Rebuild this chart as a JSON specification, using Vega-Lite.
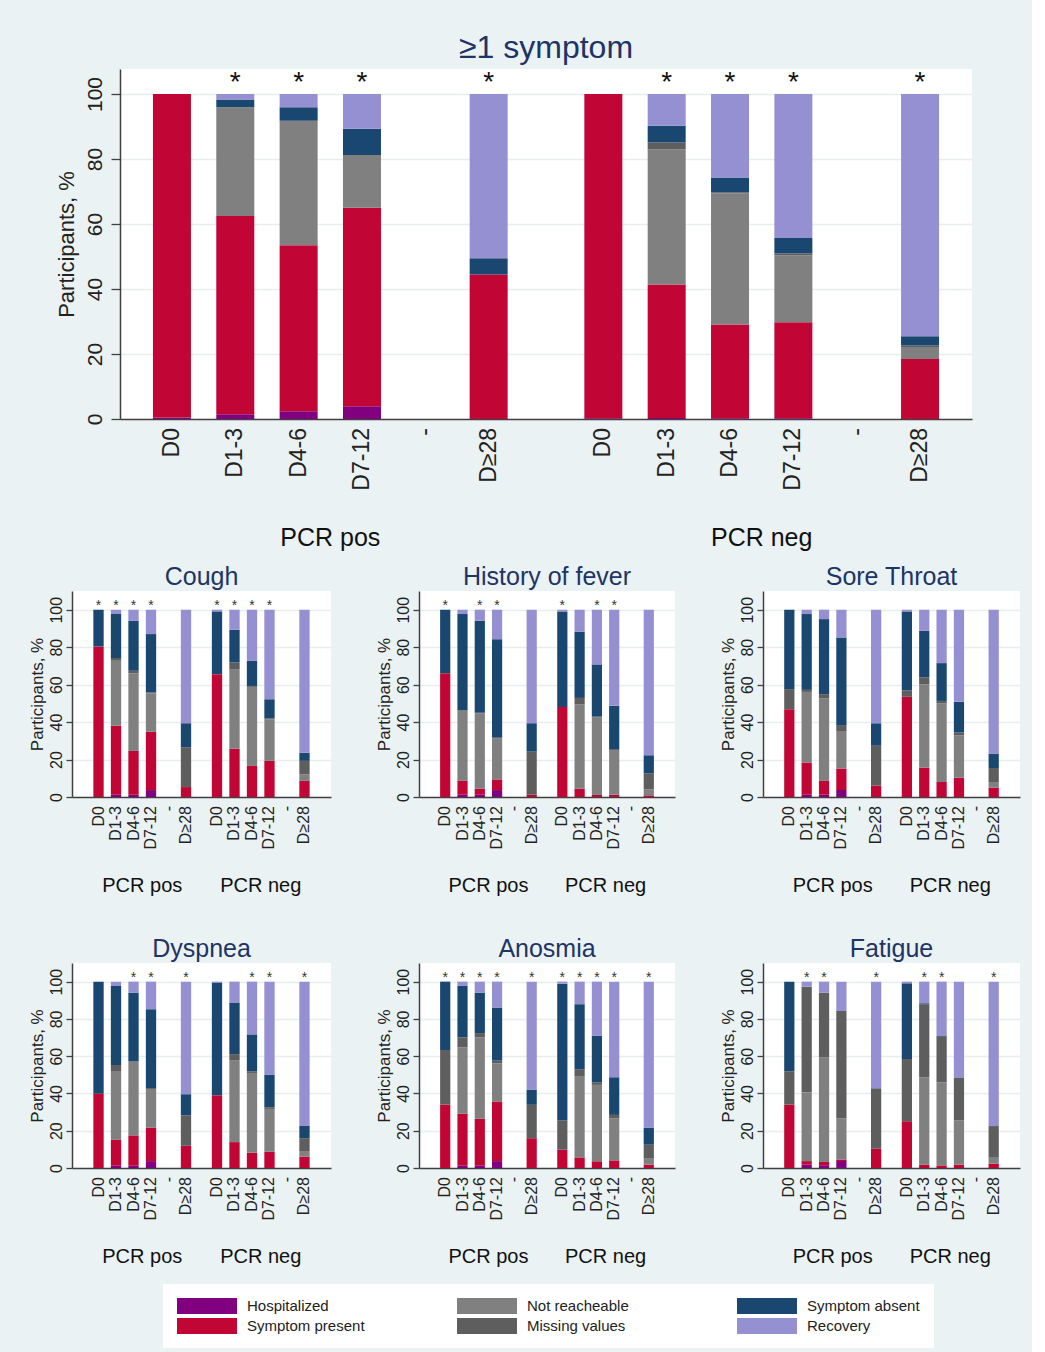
{
"$schema": "https://vega.github.io/schema/vega-lite/v6.json",
"background": "#eaf2f3",
"padding": {"left": 28, "top": 31, "right": 12, "bottom": 4},
"config": {
  "font": "Liberation Sans",
  "view": {"fill": "white", "stroke": null},
  "title": {"fontWeight": "normal", "color": "#1e3466", "anchor": "middle"},
  "axis": {"labelColor": "#222222", "titleColor": "#222222", "titleFontWeight": "normal", "domainColor": "#404040", "domainWidth": 1.5, "tickColor": "#404040", "tickWidth": 1.3, "gridColor": "#e6eef0", "gridWidth": 1.5},
  "axisX": {"grid": false, "ticks": false, "labelAngle": 0, "labelColor": "#111111", "labelBaseline": "top"},
  "axisY": {"labelAngle": -90, "labelAlign": "center", "labelBaseline": "bottom", "titlePadding": 2, "labelPadding": 2}
},
"datasets": {
  "cats": [
    {"key": "H", "c": "Hospitalized", "k": 1},
    {"key": "S", "c": "Symptom present", "k": 2},
    {"key": "N", "c": "Not reacheable", "k": 3},
    {"key": "M", "c": "Missing values", "k": 4},
    {"key": "A", "c": "Symptom absent", "k": 5},
    {"key": "R", "c": "Recovery", "k": 6}
  ],
  "bars": [
    {"p":"sym","g":"PCR pos","t":"D0","H":0.5,"S":99.5,"N":0,"M":0,"A":0,"R":0,"star":0},
    {"p":"sym","g":"PCR pos","t":"D1-3","H":1.5,"S":61,"N":33.4,"M":0,"A":2.4,"R":1.7,"star":1},
    {"p":"sym","g":"PCR pos","t":"D4-6","H":2.4,"S":51.1,"N":38.3,"M":0,"A":4.1,"R":4.1,"star":1},
    {"p":"sym","g":"PCR pos","t":"D7-12","H":3.9,"S":61.1,"N":16.2,"M":0,"A":8.1,"R":10.7,"star":1},
    {"p":"sym","g":"PCR pos","t":"-","H":0,"S":0,"N":0,"M":0,"A":0,"R":0,"star":0},
    {"p":"sym","g":"PCR pos","t":"D≥28","H":0,"S":44.5,"N":0,"M":0,"A":5,"R":50.5,"star":1},
    {"p":"sym","g":"PCR neg","t":"D0","H":0.2,"S":99.8,"N":0,"M":0,"A":0,"R":0,"star":0},
    {"p":"sym","g":"PCR neg","t":"D1-3","H":0.3,"S":41.1,"N":41.6,"M":2.1,"A":5.1,"R":9.8,"star":1},
    {"p":"sym","g":"PCR neg","t":"D4-6","H":0.2,"S":28.9,"N":40.4,"M":0.3,"A":4.5,"R":25.7,"star":1},
    {"p":"sym","g":"PCR neg","t":"D7-12","H":0.2,"S":29.6,"N":20.6,"M":0.5,"A":4.8,"R":44.3,"star":1},
    {"p":"sym","g":"PCR neg","t":"-","H":0,"S":0,"N":0,"M":0,"A":0,"R":0,"star":0},
    {"p":"sym","g":"PCR neg","t":"D≥28","H":0,"S":18.5,"N":3.4,"M":0.7,"A":2.9,"R":74.5,"star":1},

    {"p":"cough","g":"PCR pos","t":"D0","H":0,"S":80.4,"N":0,"M":0,"A":19.6,"R":0,"star":1},
    {"p":"cough","g":"PCR pos","t":"D1-3","H":1.2,"S":36.8,"N":34.7,"M":1.5,"A":23.5,"R":2.3,"star":1},
    {"p":"cough","g":"PCR pos","t":"D4-6","H":1.2,"S":23.4,"N":41.4,"M":1.4,"A":26.7,"R":5.9,"star":1},
    {"p":"cough","g":"PCR pos","t":"D7-12","H":3.7,"S":31.1,"N":20.5,"M":0.5,"A":31.2,"R":13,"star":1},
    {"p":"cough","g":"PCR pos","t":"-","H":0,"S":0,"N":0,"M":0,"A":0,"R":0,"star":0},
    {"p":"cough","g":"PCR pos","t":"D≥28","H":0,"S":5.3,"N":0,"M":21.1,"A":13,"R":60.6,"star":0},
    {"p":"cough","g":"PCR neg","t":"D0","H":0,"S":65.6,"N":0,"M":0,"A":33.5,"R":0.9,"star":1},
    {"p":"cough","g":"PCR neg","t":"D1-3","H":0,"S":25.8,"N":42.5,"M":3.5,"A":17.5,"R":10.7,"star":1},
    {"p":"cough","g":"PCR neg","t":"D4-6","H":0,"S":16.6,"N":42.2,"M":0.5,"A":13.4,"R":27.3,"star":1},
    {"p":"cough","g":"PCR neg","t":"D7-12","H":0,"S":19.3,"N":22.2,"M":0.5,"A":10.2,"R":47.8,"star":1},
    {"p":"cough","g":"PCR neg","t":"-","H":0,"S":0,"N":0,"M":0,"A":0,"R":0,"star":0},
    {"p":"cough","g":"PCR neg","t":"D≥28","H":0,"S":8.6,"N":3.5,"M":7.2,"A":4.4,"R":76.3,"star":0},

    {"p":"fever","g":"PCR pos","t":"D0","H":0,"S":66.1,"N":0,"M":0,"A":33.9,"R":0,"star":1},
    {"p":"fever","g":"PCR pos","t":"D1-3","H":1.2,"S":7.4,"N":37.9,"M":0,"A":51.2,"R":2.3,"star":0},
    {"p":"fever","g":"PCR pos","t":"D4-6","H":1.2,"S":3.3,"N":40.1,"M":0.4,"A":49.1,"R":5.9,"star":1},
    {"p":"fever","g":"PCR pos","t":"D7-12","H":3.7,"S":5.7,"N":21.8,"M":0.4,"A":52.7,"R":15.7,"star":1},
    {"p":"fever","g":"PCR pos","t":"-","H":0,"S":0,"N":0,"M":0,"A":0,"R":0,"star":0},
    {"p":"fever","g":"PCR pos","t":"D≥28","H":0,"S":1.2,"N":0,"M":23,"A":15.2,"R":60.6,"star":0},
    {"p":"fever","g":"PCR neg","t":"D0","H":0,"S":48.1,"N":0,"M":0,"A":51,"R":0.9,"star":1},
    {"p":"fever","g":"PCR neg","t":"D1-3","H":0,"S":4.5,"N":44.9,"M":3.5,"A":35.3,"R":11.8,"star":0},
    {"p":"fever","g":"PCR neg","t":"D4-6","H":0,"S":1.1,"N":41.3,"M":0.5,"A":27.9,"R":29.2,"star":1},
    {"p":"fever","g":"PCR neg","t":"D7-12","H":0,"S":1.2,"N":23.9,"M":0.5,"A":23.1,"R":51.3,"star":1},
    {"p":"fever","g":"PCR neg","t":"-","H":0,"S":0,"N":0,"M":0,"A":0,"R":0,"star":0},
    {"p":"fever","g":"PCR neg","t":"D≥28","H":0,"S":0.9,"N":3.2,"M":8.4,"A":9.8,"R":77.7,"star":0},

    {"p":"sore","g":"PCR pos","t":"D0","H":0,"S":46.9,"N":0,"M":10.7,"A":42.4,"R":0,"star":0},
    {"p":"sore","g":"PCR pos","t":"D1-3","H":1.2,"S":17.2,"N":37.7,"M":1.1,"A":40.5,"R":2.3,"star":0},
    {"p":"sore","g":"PCR pos","t":"D4-6","H":1.2,"S":7.4,"N":44,"M":2.3,"A":40.1,"R":5,"star":0},
    {"p":"sore","g":"PCR pos","t":"D7-12","H":3.7,"S":11.5,"N":20.1,"M":2.7,"A":47.2,"R":14.8,"star":0},
    {"p":"sore","g":"PCR pos","t":"-","H":0,"S":0,"N":0,"M":0,"A":0,"R":0,"star":0},
    {"p":"sore","g":"PCR pos","t":"D≥28","H":0,"S":6.2,"N":0,"M":21.1,"A":12.1,"R":60.6,"star":0},
    {"p":"sore","g":"PCR neg","t":"D0","H":0,"S":53.5,"N":0,"M":3.5,"A":42.1,"R":0.9,"star":0},
    {"p":"sore","g":"PCR neg","t":"D1-3","H":0,"S":15.7,"N":44.5,"M":3.6,"A":25,"R":11.2,"star":0},
    {"p":"sore","g":"PCR neg","t":"D4-6","H":0,"S":8,"N":41.9,"M":1.4,"A":20.2,"R":28.5,"star":0},
    {"p":"sore","g":"PCR neg","t":"D7-12","H":0,"S":10.3,"N":22.7,"M":1.4,"A":16.4,"R":49.2,"star":0},
    {"p":"sore","g":"PCR neg","t":"-","H":0,"S":0,"N":0,"M":0,"A":0,"R":0,"star":0},
    {"p":"sore","g":"PCR neg","t":"D≥28","H":0,"S":5,"N":3,"M":7.5,"A":7.7,"R":76.8,"star":0},

    {"p":"dysp","g":"PCR pos","t":"D0","H":0,"S":39.9,"N":0,"M":0,"A":60.1,"R":0,"star":0},
    {"p":"dysp","g":"PCR pos","t":"D1-3","H":1.2,"S":14.1,"N":36.4,"M":3.6,"A":42.4,"R":2.3,"star":0},
    {"p":"dysp","g":"PCR pos","t":"D4-6","H":1.2,"S":16.3,"N":39.5,"M":0.4,"A":36.7,"R":5.9,"star":1},
    {"p":"dysp","g":"PCR pos","t":"D7-12","H":3.7,"S":18,"N":20.7,"M":0.5,"A":42.3,"R":14.8,"star":1},
    {"p":"dysp","g":"PCR pos","t":"-","H":0,"S":0,"N":0,"M":0,"A":0,"R":0,"star":0},
    {"p":"dysp","g":"PCR pos","t":"D≥28","H":0,"S":11.9,"N":0,"M":16.3,"A":11.4,"R":60.4,"star":1},
    {"p":"dysp","g":"PCR neg","t":"D0","H":0,"S":39,"N":0,"M":0,"A":60.5,"R":0.5,"star":0},
    {"p":"dysp","g":"PCR neg","t":"D1-3","H":0,"S":13.9,"N":44,"M":3.2,"A":27.7,"R":11.2,"star":0},
    {"p":"dysp","g":"PCR neg","t":"D4-6","H":0,"S":8.2,"N":42.8,"M":0.9,"A":19.8,"R":28.3,"star":1},
    {"p":"dysp","g":"PCR neg","t":"D7-12","H":0,"S":8.7,"N":23,"M":0.9,"A":17.5,"R":49.9,"star":1},
    {"p":"dysp","g":"PCR neg","t":"-","H":0,"S":0,"N":0,"M":0,"A":0,"R":0,"star":0},
    {"p":"dysp","g":"PCR neg","t":"D≥28","H":0,"S":6.1,"N":3,"M":6.9,"A":6.8,"R":77.2,"star":1},

    {"p":"anos","g":"PCR pos","t":"D0","H":0,"S":34,"N":0,"M":29.3,"A":36.7,"R":0,"star":1},
    {"p":"anos","g":"PCR pos","t":"D1-3","H":1.2,"S":27.9,"N":35.6,"M":5.4,"A":27.6,"R":2.3,"star":1},
    {"p":"anos","g":"PCR pos","t":"D4-6","H":1.2,"S":25.2,"N":43.7,"M":2.3,"A":21.7,"R":5.9,"star":1},
    {"p":"anos","g":"PCR pos","t":"D7-12","H":3.7,"S":32,"N":20.4,"M":1.5,"A":28.5,"R":13.9,"star":1},
    {"p":"anos","g":"PCR pos","t":"-","H":0,"S":0,"N":0,"M":0,"A":0,"R":0,"star":0},
    {"p":"anos","g":"PCR pos","t":"D≥28","H":0,"S":16,"N":0,"M":17.9,"A":8.2,"R":57.9,"star":1},
    {"p":"anos","g":"PCR neg","t":"D0","H":0,"S":9.8,"N":0,"M":15.7,"A":73.4,"R":1.1,"star":1},
    {"p":"anos","g":"PCR neg","t":"D1-3","H":0,"S":5.7,"N":43.3,"M":3.8,"A":35.1,"R":12.1,"star":1},
    {"p":"anos","g":"PCR neg","t":"D4-6","H":0,"S":3.6,"N":41,"M":1.4,"A":24.9,"R":29.1,"star":1},
    {"p":"anos","g":"PCR neg","t":"D7-12","H":0,"S":4.1,"N":22.6,"M":1.8,"A":20.2,"R":51.3,"star":1},
    {"p":"anos","g":"PCR neg","t":"-","H":0,"S":0,"N":0,"M":0,"A":0,"R":0,"star":0},
    {"p":"anos","g":"PCR neg","t":"D≥28","H":0,"S":1.8,"N":3.2,"M":7.5,"A":9.2,"R":78.3,"star":1},

    {"p":"fat","g":"PCR pos","t":"D0","H":0,"S":34,"N":0,"M":17.9,"A":48.1,"R":0,"star":0},
    {"p":"fat","g":"PCR pos","t":"D1-3","H":1.8,"S":1.9,"N":36.9,"M":56.7,"A":0,"R":2.7,"star":1},
    {"p":"fat","g":"PCR pos","t":"D4-6","H":1.5,"S":1.7,"N":56.2,"M":34.7,"A":0,"R":5.9,"star":1},
    {"p":"fat","g":"PCR pos","t":"D7-12","H":3.7,"S":0.9,"N":22.1,"M":57.6,"A":0,"R":15.7,"star":0},
    {"p":"fat","g":"PCR pos","t":"-","H":0,"S":0,"N":0,"M":0,"A":0,"R":0,"star":0},
    {"p":"fat","g":"PCR pos","t":"D≥28","H":0,"S":10.3,"N":0,"M":32.5,"A":0,"R":57.2,"star":1},
    {"p":"fat","g":"PCR neg","t":"D0","H":0,"S":25.1,"N":0,"M":33.4,"A":40.6,"R":0.9,"star":0},
    {"p":"fat","g":"PCR neg","t":"D1-3","H":0,"S":1.8,"N":46.9,"M":39.2,"A":0.5,"R":11.6,"star":1},
    {"p":"fat","g":"PCR neg","t":"D4-6","H":0,"S":1.4,"N":44.6,"M":24.4,"A":0.4,"R":29.2,"star":1},
    {"p":"fat","g":"PCR neg","t":"D7-12","H":0,"S":1.8,"N":23.7,"M":22.8,"A":0,"R":51.7,"star":0},
    {"p":"fat","g":"PCR neg","t":"-","H":0,"S":0,"N":0,"M":0,"A":0,"R":0,"star":0},
    {"p":"fat","g":"PCR neg","t":"D≥28","H":0,"S":2.3,"N":3.6,"M":16.6,"A":0,"R":77.5,"star":1}
  ]
},
"spacing": 15,
"center": true,
"resolve": {"scale": {"xOffset": "independent"}},
"vconcat": [
  {
    "data": {"name": "bars"},
    "transform": [
      {"filter": "datum.p == 'sym'"},
      {"fold": ["H","S","N","M","A","R"], "as": ["key","v"]},
      {"lookup": "key", "from": {"data": {"name": "cats"}, "key": "key", "fields": ["c","k"]}}
    ],
    "title": {"text": "≥1 symptom", "fontSize": 32, "offset": 4},
    "width": 852, "height": 350,
    "layer": [
      {"mark": {"type": "bar"},
       "encoding": {
         "x": {"field": "g", "type": "nominal", "title": null, "sort": ["PCR pos","PCR neg"], "scale": {"domain": ["PCR pos","PCR neg"], "paddingInner": 0.119, "paddingOuter": 0.047}, "axis": {"labelFontSize": 25, "labelPadding": 106}},
         "xOffset": {"field": "t", "type": "nominal", "scale": {"domain": ["D0","D1-3","D4-6","D7-12","-","D≥28"], "paddingInner": 0.4, "paddingOuter": 0.2}},
         "y": {"field": "v", "type": "quantitative", "stack": "zero", "title": "Participants, %", "scale": {"domain": [0,107.7], "nice": false}, "axis": {"values": [0,20,40,60,80,100], "labelFontSize": 21, "titleFontSize": 22, "tickSize": 9, "labelPadding": 6, "titlePadding": 6}},
         "color": {"field": "c", "type": "nominal", "scale": {"domain": ["Hospitalized","Not reacheable","Symptom absent","Symptom present","Missing values","Recovery"], "range": ["#800080","#808080","#1a476f","#c10534","#5e5e5e","#9590d2"]},
           "legend": {"title": null, "orient": "none", "legendX": 91, "legendY": 1215, "direction": "horizontal", "columns": 3, "gridAlign": "all", "columnPadding": 92, "rowPadding": 4, "symbolType": "M-1,-1H6.5V1H-1Z", "symbolSize": 256, "symbolStrokeWidth": 0, "labelFontSize": 15, "labelOffset": 54, "labelColor": "#222222", "fillColor": "white", "padding": 14}},
         "order": {"field": "k", "type": "quantitative"}
       }},
      {"transform": [{"filter": "datum.k == 6"}],
       "mark": {"type": "text", "angle": 270, "align": "right", "baseline": "middle", "dx": -9, "fontSize": 23, "color": "#222222"},
       "encoding": {"x": {"field": "g", "type": "nominal", "title": null}, "xOffset": {"field": "t", "type": "nominal"}, "y": {"datum": 0}, "text": {"field": "t"}}},
      {"transform": [{"filter": "datum.star == 1 && datum.k == 6"}],
       "mark": {"type": "text", "text": "*", "fontSize": 28, "baseline": "alphabetic", "color": "#111111"},
       "encoding": {"x": {"field": "g", "type": "nominal", "title": null}, "xOffset": {"field": "t", "type": "nominal"}, "y": {"datum": 101}}}
    ]
  },
  {
    "spacing": 42,
    "resolve": {"scale": {"xOffset": "independent"}},
    "vconcat": [
      {
        "spacing": 44,
        "resolve": {"scale": {"xOffset": "independent"}},
        "hconcat": [
          {
            "data": {"name": "bars"},
            "transform": [
              {"filter": "datum.p == 'cough'"},
              {"fold": ["H","S","N","M","A","R"], "as": ["key","v"]},
              {"lookup": "key", "from": {"data": {"name": "cats"}, "key": "key", "fields": ["c","k"]}}
            ],
            "title": {"text": "Cough", "fontSize": 25, "offset": 1},
            "width": 259, "height": 206,
            "layer": [
              {"mark": {"type": "bar"},
               "encoding": {
                 "x": {"field": "g", "type": "nominal", "title": null, "sort": ["PCR pos","PCR neg"], "scale": {"domain": ["PCR pos","PCR neg"], "paddingInner": 0.114, "paddingOuter": 0.15}, "axis": {"labelFontSize": 20, "labelPadding": 78}},
                 "xOffset": {"field": "t", "type": "nominal", "scale": {"domain": ["D0","D1-3","D4-6","D7-12","-","D≥28"], "paddingInner": 0.41, "paddingOuter": 0.205}},
                 "y": {"field": "v", "type": "quantitative", "stack": "zero", "title": "Participants, %", "scale": {"domain": [0,110], "nice": false}, "axis": {"values": [0,20,40,60,80,100], "labelFontSize": 16, "titleFontSize": 17, "tickSize": 6}},
                 "color": {"field": "c", "type": "nominal", "scale": {"domain": ["Hospitalized","Not reacheable","Symptom absent","Symptom present","Missing values","Recovery"], "range": ["#800080","#808080","#1a476f","#c10534","#5e5e5e","#9590d2"]},
                   "legend": {"title": null, "orient": "none", "legendX": 91, "legendY": 1215, "direction": "horizontal", "columns": 3, "gridAlign": "all", "columnPadding": 92, "rowPadding": 4, "symbolType": "M-1,-1H6.5V1H-1Z", "symbolSize": 256, "symbolStrokeWidth": 0, "labelFontSize": 15, "labelOffset": 54, "labelColor": "#222222", "fillColor": "white", "padding": 14}},
                 "order": {"field": "k", "type": "quantitative"}
               }},
              {"transform": [{"filter": "datum.k == 6"}],
               "mark": {"type": "text", "angle": 270, "align": "right", "baseline": "middle", "dx": -9, "fontSize": 16, "color": "#222222"},
               "encoding": {"x": {"field": "g", "type": "nominal", "title": null}, "xOffset": {"field": "t", "type": "nominal"}, "y": {"datum": 0}, "text": {"field": "t"}}},
              {"transform": [{"filter": "datum.star == 1 && datum.k == 6"}],
               "mark": {"type": "text", "text": "*", "fontSize": 14, "baseline": "alphabetic", "color": "#333333"},
               "encoding": {"x": {"field": "g", "type": "nominal", "title": null}, "xOffset": {"field": "t", "type": "nominal"}, "y": {"datum": 100}}}
            ]
          },
          {
            "data": {"name": "bars"},
            "transform": [
              {"filter": "datum.p == 'fever'"},
              {"fold": ["H","S","N","M","A","R"], "as": ["key","v"]},
              {"lookup": "key", "from": {"data": {"name": "cats"}, "key": "key", "fields": ["c","k"]}}
            ],
            "title": {"text": "History of fever", "fontSize": 25, "offset": 1},
            "width": 256, "height": 206,
            "layer": [
              {"mark": {"type": "bar"},
               "encoding": {
                 "x": {"field": "g", "type": "nominal", "title": null, "sort": ["PCR pos","PCR neg"], "scale": {"domain": ["PCR pos","PCR neg"], "paddingInner": 0.114, "paddingOuter": 0.15}, "axis": {"labelFontSize": 20, "labelPadding": 78}},
                 "xOffset": {"field": "t", "type": "nominal", "scale": {"domain": ["D0","D1-3","D4-6","D7-12","-","D≥28"], "paddingInner": 0.41, "paddingOuter": 0.205}},
                 "y": {"field": "v", "type": "quantitative", "stack": "zero", "title": "Participants, %", "scale": {"domain": [0,110], "nice": false}, "axis": {"values": [0,20,40,60,80,100], "labelFontSize": 16, "titleFontSize": 17, "tickSize": 6}},
                 "color": {"field": "c", "type": "nominal", "scale": {"domain": ["Hospitalized","Not reacheable","Symptom absent","Symptom present","Missing values","Recovery"], "range": ["#800080","#808080","#1a476f","#c10534","#5e5e5e","#9590d2"]},
                   "legend": {"title": null, "orient": "none", "legendX": 91, "legendY": 1215, "direction": "horizontal", "columns": 3, "gridAlign": "all", "columnPadding": 92, "rowPadding": 4, "symbolType": "M-1,-1H6.5V1H-1Z", "symbolSize": 256, "symbolStrokeWidth": 0, "labelFontSize": 15, "labelOffset": 54, "labelColor": "#222222", "fillColor": "white", "padding": 14}},
                 "order": {"field": "k", "type": "quantitative"}
               }},
              {"transform": [{"filter": "datum.k == 6"}],
               "mark": {"type": "text", "angle": 270, "align": "right", "baseline": "middle", "dx": -9, "fontSize": 16, "color": "#222222"},
               "encoding": {"x": {"field": "g", "type": "nominal", "title": null}, "xOffset": {"field": "t", "type": "nominal"}, "y": {"datum": 0}, "text": {"field": "t"}}},
              {"transform": [{"filter": "datum.star == 1 && datum.k == 6"}],
               "mark": {"type": "text", "text": "*", "fontSize": 14, "baseline": "alphabetic", "color": "#333333"},
               "encoding": {"x": {"field": "g", "type": "nominal", "title": null}, "xOffset": {"field": "t", "type": "nominal"}, "y": {"datum": 100}}}
            ]
          },
          {
            "data": {"name": "bars"},
            "transform": [
              {"filter": "datum.p == 'sore'"},
              {"fold": ["H","S","N","M","A","R"], "as": ["key","v"]},
              {"lookup": "key", "from": {"data": {"name": "cats"}, "key": "key", "fields": ["c","k"]}}
            ],
            "title": {"text": "Sore Throat", "fontSize": 25, "offset": 1},
            "width": 257, "height": 206,
            "layer": [
              {"mark": {"type": "bar"},
               "encoding": {
                 "x": {"field": "g", "type": "nominal", "title": null, "sort": ["PCR pos","PCR neg"], "scale": {"domain": ["PCR pos","PCR neg"], "paddingInner": 0.114, "paddingOuter": 0.15}, "axis": {"labelFontSize": 20, "labelPadding": 78}},
                 "xOffset": {"field": "t", "type": "nominal", "scale": {"domain": ["D0","D1-3","D4-6","D7-12","-","D≥28"], "paddingInner": 0.41, "paddingOuter": 0.205}},
                 "y": {"field": "v", "type": "quantitative", "stack": "zero", "title": "Participants, %", "scale": {"domain": [0,110], "nice": false}, "axis": {"values": [0,20,40,60,80,100], "labelFontSize": 16, "titleFontSize": 17, "tickSize": 6}},
                 "color": {"field": "c", "type": "nominal", "scale": {"domain": ["Hospitalized","Not reacheable","Symptom absent","Symptom present","Missing values","Recovery"], "range": ["#800080","#808080","#1a476f","#c10534","#5e5e5e","#9590d2"]},
                   "legend": {"title": null, "orient": "none", "legendX": 91, "legendY": 1215, "direction": "horizontal", "columns": 3, "gridAlign": "all", "columnPadding": 92, "rowPadding": 4, "symbolType": "M-1,-1H6.5V1H-1Z", "symbolSize": 256, "symbolStrokeWidth": 0, "labelFontSize": 15, "labelOffset": 54, "labelColor": "#222222", "fillColor": "white", "padding": 14}},
                 "order": {"field": "k", "type": "quantitative"}
               }},
              {"transform": [{"filter": "datum.k == 6"}],
               "mark": {"type": "text", "angle": 270, "align": "right", "baseline": "middle", "dx": -9, "fontSize": 16, "color": "#222222"},
               "encoding": {"x": {"field": "g", "type": "nominal", "title": null}, "xOffset": {"field": "t", "type": "nominal"}, "y": {"datum": 0}, "text": {"field": "t"}}},
              {"transform": [{"filter": "datum.star == 1 && datum.k == 6"}],
               "mark": {"type": "text", "text": "*", "fontSize": 14, "baseline": "alphabetic", "color": "#333333"},
               "encoding": {"x": {"field": "g", "type": "nominal", "title": null}, "xOffset": {"field": "t", "type": "nominal"}, "y": {"datum": 100}}}
            ]
          }
        ]
      },
      {
        "spacing": 44,
        "resolve": {"scale": {"xOffset": "independent"}},
        "hconcat": [
          {
            "data": {"name": "bars"},
            "transform": [
              {"filter": "datum.p == 'dysp'"},
              {"fold": ["H","S","N","M","A","R"], "as": ["key","v"]},
              {"lookup": "key", "from": {"data": {"name": "cats"}, "key": "key", "fields": ["c","k"]}}
            ],
            "title": {"text": "Dyspnea", "fontSize": 25, "offset": 1},
            "width": 259, "height": 205,
            "layer": [
              {"mark": {"type": "bar"},
               "encoding": {
                 "x": {"field": "g", "type": "nominal", "title": null, "sort": ["PCR pos","PCR neg"], "scale": {"domain": ["PCR pos","PCR neg"], "paddingInner": 0.114, "paddingOuter": 0.15}, "axis": {"labelFontSize": 20, "labelPadding": 78}},
                 "xOffset": {"field": "t", "type": "nominal", "scale": {"domain": ["D0","D1-3","D4-6","D7-12","-","D≥28"], "paddingInner": 0.41, "paddingOuter": 0.205}},
                 "y": {"field": "v", "type": "quantitative", "stack": "zero", "title": "Participants, %", "scale": {"domain": [0,110], "nice": false}, "axis": {"values": [0,20,40,60,80,100], "labelFontSize": 16, "titleFontSize": 17, "tickSize": 6}},
                 "color": {"field": "c", "type": "nominal", "scale": {"domain": ["Hospitalized","Not reacheable","Symptom absent","Symptom present","Missing values","Recovery"], "range": ["#800080","#808080","#1a476f","#c10534","#5e5e5e","#9590d2"]},
                   "legend": {"title": null, "orient": "none", "legendX": 91, "legendY": 1215, "direction": "horizontal", "columns": 3, "gridAlign": "all", "columnPadding": 92, "rowPadding": 4, "symbolType": "M-1,-1H6.5V1H-1Z", "symbolSize": 256, "symbolStrokeWidth": 0, "labelFontSize": 15, "labelOffset": 54, "labelColor": "#222222", "fillColor": "white", "padding": 14}},
                 "order": {"field": "k", "type": "quantitative"}
               }},
              {"transform": [{"filter": "datum.k == 6"}],
               "mark": {"type": "text", "angle": 270, "align": "right", "baseline": "middle", "dx": -9, "fontSize": 16, "color": "#222222"},
               "encoding": {"x": {"field": "g", "type": "nominal", "title": null}, "xOffset": {"field": "t", "type": "nominal"}, "y": {"datum": 0}, "text": {"field": "t"}}},
              {"transform": [{"filter": "datum.star == 1 && datum.k == 6"}],
               "mark": {"type": "text", "text": "*", "fontSize": 14, "baseline": "alphabetic", "color": "#333333"},
               "encoding": {"x": {"field": "g", "type": "nominal", "title": null}, "xOffset": {"field": "t", "type": "nominal"}, "y": {"datum": 100}}}
            ]
          },
          {
            "data": {"name": "bars"},
            "transform": [
              {"filter": "datum.p == 'anos'"},
              {"fold": ["H","S","N","M","A","R"], "as": ["key","v"]},
              {"lookup": "key", "from": {"data": {"name": "cats"}, "key": "key", "fields": ["c","k"]}}
            ],
            "title": {"text": "Anosmia", "fontSize": 25, "offset": 1},
            "width": 256, "height": 205,
            "layer": [
              {"mark": {"type": "bar"},
               "encoding": {
                 "x": {"field": "g", "type": "nominal", "title": null, "sort": ["PCR pos","PCR neg"], "scale": {"domain": ["PCR pos","PCR neg"], "paddingInner": 0.114, "paddingOuter": 0.15}, "axis": {"labelFontSize": 20, "labelPadding": 78}},
                 "xOffset": {"field": "t", "type": "nominal", "scale": {"domain": ["D0","D1-3","D4-6","D7-12","-","D≥28"], "paddingInner": 0.41, "paddingOuter": 0.205}},
                 "y": {"field": "v", "type": "quantitative", "stack": "zero", "title": "Participants, %", "scale": {"domain": [0,110], "nice": false}, "axis": {"values": [0,20,40,60,80,100], "labelFontSize": 16, "titleFontSize": 17, "tickSize": 6}},
                 "color": {"field": "c", "type": "nominal", "scale": {"domain": ["Hospitalized","Not reacheable","Symptom absent","Symptom present","Missing values","Recovery"], "range": ["#800080","#808080","#1a476f","#c10534","#5e5e5e","#9590d2"]},
                   "legend": {"title": null, "orient": "none", "legendX": 91, "legendY": 1215, "direction": "horizontal", "columns": 3, "gridAlign": "all", "columnPadding": 92, "rowPadding": 4, "symbolType": "M-1,-1H6.5V1H-1Z", "symbolSize": 256, "symbolStrokeWidth": 0, "labelFontSize": 15, "labelOffset": 54, "labelColor": "#222222", "fillColor": "white", "padding": 14}},
                 "order": {"field": "k", "type": "quantitative"}
               }},
              {"transform": [{"filter": "datum.k == 6"}],
               "mark": {"type": "text", "angle": 270, "align": "right", "baseline": "middle", "dx": -9, "fontSize": 16, "color": "#222222"},
               "encoding": {"x": {"field": "g", "type": "nominal", "title": null}, "xOffset": {"field": "t", "type": "nominal"}, "y": {"datum": 0}, "text": {"field": "t"}}},
              {"transform": [{"filter": "datum.star == 1 && datum.k == 6"}],
               "mark": {"type": "text", "text": "*", "fontSize": 14, "baseline": "alphabetic", "color": "#333333"},
               "encoding": {"x": {"field": "g", "type": "nominal", "title": null}, "xOffset": {"field": "t", "type": "nominal"}, "y": {"datum": 100}}}
            ]
          },
          {
            "data": {"name": "bars"},
            "transform": [
              {"filter": "datum.p == 'fat'"},
              {"fold": ["H","S","N","M","A","R"], "as": ["key","v"]},
              {"lookup": "key", "from": {"data": {"name": "cats"}, "key": "key", "fields": ["c","k"]}}
            ],
            "title": {"text": "Fatigue", "fontSize": 25, "offset": 1},
            "width": 257, "height": 205,
            "layer": [
              {"mark": {"type": "bar"},
               "encoding": {
                 "x": {"field": "g", "type": "nominal", "title": null, "sort": ["PCR pos","PCR neg"], "scale": {"domain": ["PCR pos","PCR neg"], "paddingInner": 0.114, "paddingOuter": 0.15}, "axis": {"labelFontSize": 20, "labelPadding": 78}},
                 "xOffset": {"field": "t", "type": "nominal", "scale": {"domain": ["D0","D1-3","D4-6","D7-12","-","D≥28"], "paddingInner": 0.41, "paddingOuter": 0.205}},
                 "y": {"field": "v", "type": "quantitative", "stack": "zero", "title": "Participants, %", "scale": {"domain": [0,110], "nice": false}, "axis": {"values": [0,20,40,60,80,100], "labelFontSize": 16, "titleFontSize": 17, "tickSize": 6}},
                 "color": {"field": "c", "type": "nominal", "scale": {"domain": ["Hospitalized","Not reacheable","Symptom absent","Symptom present","Missing values","Recovery"], "range": ["#800080","#808080","#1a476f","#c10534","#5e5e5e","#9590d2"]},
                   "legend": {"title": null, "orient": "none", "legendX": 91, "legendY": 1215, "direction": "horizontal", "columns": 3, "gridAlign": "all", "columnPadding": 92, "rowPadding": 4, "symbolType": "M-1,-1H6.5V1H-1Z", "symbolSize": 256, "symbolStrokeWidth": 0, "labelFontSize": 15, "labelOffset": 54, "labelColor": "#222222", "fillColor": "white", "padding": 14}},
                 "order": {"field": "k", "type": "quantitative"}
               }},
              {"transform": [{"filter": "datum.k == 6"}],
               "mark": {"type": "text", "angle": 270, "align": "right", "baseline": "middle", "dx": -9, "fontSize": 16, "color": "#222222"},
               "encoding": {"x": {"field": "g", "type": "nominal", "title": null}, "xOffset": {"field": "t", "type": "nominal"}, "y": {"datum": 0}, "text": {"field": "t"}}},
              {"transform": [{"filter": "datum.star == 1 && datum.k == 6"}],
               "mark": {"type": "text", "text": "*", "fontSize": 14, "baseline": "alphabetic", "color": "#333333"},
               "encoding": {"x": {"field": "g", "type": "nominal", "title": null}, "xOffset": {"field": "t", "type": "nominal"}, "y": {"datum": 100}}}
            ]
          }
        ]
      }
    ]
  }
]
}
